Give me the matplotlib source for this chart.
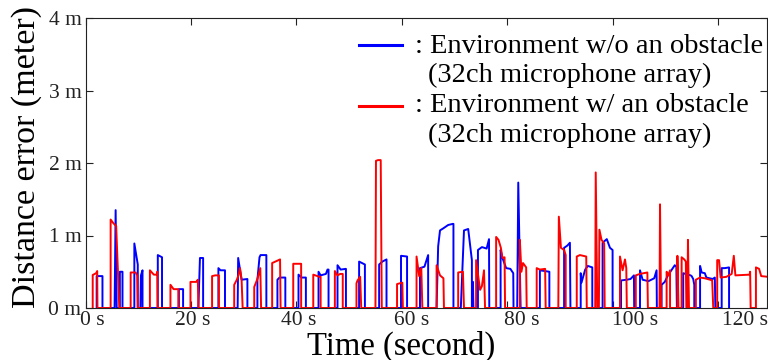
import matplotlib
matplotlib.use("Agg")
import matplotlib.pyplot as plt
from matplotlib.lines import Line2D
from matplotlib.transforms import ScaledTranslation

plt.rcParams['font.family'] = ['Liberation Serif', 'DejaVu Serif']

# Distance error, environment without an obstacle (time in s, error in m)
blue_t = [2.1, 2.1, 3.2, 3.2,
          5.5, 5.7, 5.9,
          6.5, 6.5, 7.0, 7.0,
          9.25, 9.25, 9.9, 9.9,
          10.4, 10.5, 10.8, 10.8,
          13.7, 13.7, 14.5, 14.5,
          17.7, 17.7, 18.5, 18.5,
          21.4, 21.7, 22.3, 22.3,
          25.2, 25.2, 25.6, 26.45, 26.45,
          28.85, 28.95, 29.6, 30.7, 30.7,
          32.6, 32.6, 33.0, 33.2, 34.3, 34.3,
          36.4, 36.4, 36.8, 37.9, 37.9,
          40.4, 40.4, 41.0, 41.8, 41.8,
          44.2, 44.2, 44.6, 45.6, 45.9, 46.1, 46.1,
          47.8, 47.8, 48.4, 49.4, 49.4,
          51.9, 51.9, 53.0, 53.0,
          55.7, 55.7, 56.3, 57.1, 57.1,
          59.85, 59.85, 61.0, 61.0,
          63.45, 63.45, 64.3, 65.0, 65.0,
          66.6, 66.9, 67.25, 67.9, 68.8, 69.65, 69.8, 69.8,
          71.2, 71.8, 72.6, 73.3, 73.3,
          73.5, 73.5, 73.6,
          74.45, 74.45, 75.2, 76.1, 76.55, 76.6,
          78.75, 78.75, 79.1, 79.8, 80.6, 81.15, 81.2,
          81.9, 82.1, 82.55,
          86.2, 86.2, 88.0, 88.0,
          90.8, 90.8, 91.4, 91.9, 92.0,
          93.95, 93.95, 94.1, 94.8, 95.3, 96.15, 96.15,
          98.1, 98.1, 98.9, 99.5, 100.0, 100.0,
          101.6, 101.6, 102.7, 103.4, 104.05, 104.1,
          105.2, 105.2, 105.7, 106.8, 107.9, 108.35, 108.4,
          109.3, 109.3, 109.9, 110.5, 111.8, 112.1, 112.2,
          113.4, 113.4, 114.8, 115.0, 115.3, 115.5, 115.5,
          116.6, 116.6, 116.9, 117.5, 117.8, 118.4, 119.0, 119.4, 119.5,
          120.7, 120.7, 121.3, 122.1, 122.1]
blue_v = [0, 0.44, 0.44, 0,
          0, 1.35, 0,
          0, 0.50, 0.50, 0,
          0, 0.89, 0.60, 0,
          0, 0.45, 0.52, 0,
          0, 0.73, 0.70, 0,
          0, 0.26, 0.26, 0,
          0, 0.69, 0.69, 0,
          0, 0.55, 0.52, 0.52, 0,
          0, 0.69, 0.39, 0.40, 0,
          0, 0.39, 0.70, 0.73, 0.73, 0,
          0, 0.39, 0.42, 0.42, 0,
          0, 0.46, 0.42, 0.42, 0,
          0, 0.50, 0.45, 0.47, 0.53, 0.53, 0,
          0, 0.59, 0.53, 0.54, 0,
          0, 0.64, 0.60, 0,
          0, 0.60, 0.64, 0.67, 0,
          0, 0.72, 0.71, 0,
          0, 0.55, 0.57, 0.73, 0,
          0, 0.85, 1.07, 1.10, 1.145, 1.16, 1.16, 0,
          0, 1.07, 1.09, 0.66, 0,
          0, 0.36, 0,
          0, 0.80, 0.84, 0.82, 0.95, 0,
          0, 0.80, 0.69, 0.55, 0.54, 0.48, 0,
          0, 1.73, 0,
          0, 0.52, 0.50, 0,
          0, 0.83, 0.86, 0.90, 0,
          0, 0.48, 0.35, 0.53, 0.58, 0.56, 0,
          0, 0.90, 0.95, 0.83, 0.80, 0,
          0, 0.38, 0.39, 0.40, 0.45, 0,
          0, 0.52, 0.39, 0.37, 0.41, 0.52, 0,
          0, 0.32, 0.36, 0.45, 0.59, 0.57, 0,
          0, 0.48, 0.45, 0.44, 0.40, 0.32, 0,
          0, 0.58, 0.49, 0.48, 0.42, 0.41, 0.40, 0.42, 0,
          0, 0.55, 0.55, 0.56, 0]

# Distance error, environment with an obstacle
red_t = [1.35, 1.35, 2.0, 2.2, 2.25,
         4.75, 4.75, 5.27, 5.8, 6.4,
         8.55, 8.55, 9.5, 9.8, 9.9,
         12.2, 12.2, 12.95, 13.5, 13.6, 13.65,
         16.1, 16.1, 16.7, 17.6, 17.6,
         19.9, 19.9, 21.0, 21.3, 21.4,
         24.0, 24.0, 24.6, 25.3, 25.3,
         28.2, 28.2, 28.7, 29.0, 29.3, 29.6, 29.8,
         32.0, 32.0, 32.6, 33.15, 33.3,
         35.4, 35.4, 36.9, 37.0,
         39.4, 39.4, 40.9, 40.9,
         43.2, 43.2, 44.4, 44.6, 44.6,
         47.3, 47.3, 47.8, 48.3, 48.8, 48.8,
         51.4, 51.4, 51.6, 52.1, 52.3,
         55.0, 55.1, 55.5, 56.0, 56.2,
         59.1, 59.1, 60.1, 60.2,
         62.8, 62.8, 63.3, 63.7, 63.9,
         66.6, 66.6, 67.25, 67.9, 68.0,
         70.7, 70.7, 71.6, 71.8,
         74.1, 74.1, 74.85, 75.2, 75.6, 75.8,
         77.9, 77.9, 78.35, 78.8, 79.1, 79.5, 79.6,
         82.4, 82.4, 82.7, 83.0, 83.6, 83.7,
         85.6, 85.6, 86.2, 87.2, 87.3,
         89.7, 89.8, 90.2, 90.8, 91.1, 91.1,
         93.2, 93.2, 93.8, 95.0, 95.1,
         96.7, 96.8, 97.1,
         97.4, 97.5, 97.9, 98.4, 98.5,
         101.4, 101.4, 101.9, 102.35, 102.6, 102.7,
         104.4, 104.4, 105.2, 106.6, 106.7,
         108.9, 109.0, 109.2,
         110.25, 110.25, 110.6, 110.9, 110.9,
         112.3, 112.3, 112.5,
         113.1, 113.1, 113.6, 113.9, 114.0,
         114.2, 114.3, 114.5,
         115.8, 115.8, 116.6, 117.5, 118.5, 118.9, 119.1,
         119.85, 119.85, 120.2, 120.5, 121.6, 122.6, 123.0, 123.3, 126.0, 126.1, 126.2,
         127.2, 127.2, 127.8, 128.2, 129.5]
red_v = [0, 0.455, 0.48, 0.51, 0,
         0, 1.22, 1.17, 1.13, 0,
         0, 0.49, 0.49, 0.45, 0,
         0, 0.52, 0.46, 0.46, 0.50, 0,
         0, 0.32, 0.26, 0.26, 0,
         0, 0.36, 0.36, 0.39, 0,
         0, 0.44, 0.45, 0.45, 0,
         0, 0.32, 0.39, 0.45, 0.55, 0.39, 0,
         0, 0.29, 0.40, 0.55, 0,
         0, 0.62, 0.67, 0,
         0, 0.61, 0.61, 0,
         0, 0.46, 0.43, 0.43, 0,
         0, 0.51, 0.45, 0.47, 0.47, 0,
         0, 0.34, 0.38, 0.43, 0,
         0, 2.03, 2.04, 2.04, 0,
         0, 0.33, 0.35, 0,
         0, 0.71, 0.44, 0.55, 0,
         0, 0.59, 0.45, 0.41, 0,
         0, 0.49, 0.50, 0,
         0, 0.66, 0.25, 0.30, 0.52, 0,
         0, 0.98, 0.94, 0.83, 0.69, 0.70, 0,
         0, 0.94, 0.50, 0.62, 0.56, 0,
         0, 0.55, 0.53, 0.54, 0,
         0, 1.26, 0.83, 0.80, 0.73, 0,
         0, 0.71, 0.73, 0.71, 0,
         0, 1.87, 0,
         0, 1.08, 0.94, 0.89, 0,
         0, 0.71, 0.52, 0.67, 0.55, 0,
         0, 0.45, 0.47, 0.49, 0,
         0, 1.43, 0,
         0, 0.50, 0.45, 0.52, 0,
         0, 0.72, 0,
         0, 0.70, 0.67, 0.64, 0,
         0, 0.94, 0,
         0, 0.39, 0.42, 0.41, 0.39, 0.38, 0,
         0, 0.66, 0.66, 0.42, 0.43, 0.47, 0.72, 0.45, 0.46, 0.50, 0,
         0, 0.56, 0.54, 0.44, 0.43]

x_ticks = [0, 20, 40, 60, 80, 100, 120]
x_labels = ['0 s', '20 s', '40 s', '60 s', '80 s', '100 s', '120 s']
y_ticks = [0, 1, 2, 3, 4]
y_labels = ['0 m', '1 m', '2 m', '3 m', '4 m']

fig = plt.figure(figsize=(7.68, 3.6), dpi=100)
ax = fig.add_axes([85.6 / 768, 52 / 360, (767 - 85.6) / 768, 290 / 360])

ax.plot(blue_t, blue_v, color='blue', linewidth=1.4)
ax.plot(red_t, red_v, color='red', linewidth=1.4)

ax.set_xlim(0, 129.3)
ax.set_ylim(0, 4)
ax.set_xticks(x_ticks)
ax.set_xticklabels(x_labels)
ax.set_yticks(y_ticks)
ax.set_yticklabels(y_labels)
ax.tick_params(direction='in', top=True, right=True, length=5, width=0.8,
               labelsize=15.5, pad=3, colors='#222222')
ax.tick_params(axis='x', pad=2)

# tick labels in the reference sit a little right of their ticks
shifts = [7, 1.5, 2.6, 10, 15, 22, 27]
for lab, dx in zip(ax.get_xticklabels(), shifts):
    lab.set_transform(lab.get_transform() + ScaledTranslation(dx / 100, 0, fig.dpi_scale_trans))

for sp in ax.spines.values():
    sp.set_linewidth(0.8)
    sp.set_color('#222222')

ax.set_xlabel('Time (second)', fontsize=23.5)
ax.xaxis.set_label_coords(0.463, -0.078)
ax.set_ylabel('Distance error (meter)', fontsize=24.5)
ax.yaxis.set_label_coords(-0.064, 0.52)

# hand-made legend (handle aligned with the first line of each entry)
fig.add_artist(Line2D([359 / 768, 402 / 768], [1 - 45 / 360, 1 - 45 / 360],
                      color='blue', linewidth=2.2, transform=fig.transFigure))
fig.add_artist(Line2D([359 / 768, 402 / 768], [1 - 106 / 360, 1 - 106 / 360],
                      color='red', linewidth=2.2, transform=fig.transFigure))
fig.text(415 / 768, 1 - 53.3 / 360, ': Environment w/o an obstacle', fontsize=20.5, va='baseline')
fig.text(428 / 768, 1 - 81.7 / 360, '(32ch microphone array)', fontsize=20.5, va='baseline')
fig.text(415 / 768, 1 - 111.7 / 360, ': Environment w/ an obstacle', fontsize=20.5, va='baseline')
fig.text(428 / 768, 1 - 141.7 / 360, '(32ch microphone array)', fontsize=20.5, va='baseline')

fig.savefig('out.png', dpi=100)
